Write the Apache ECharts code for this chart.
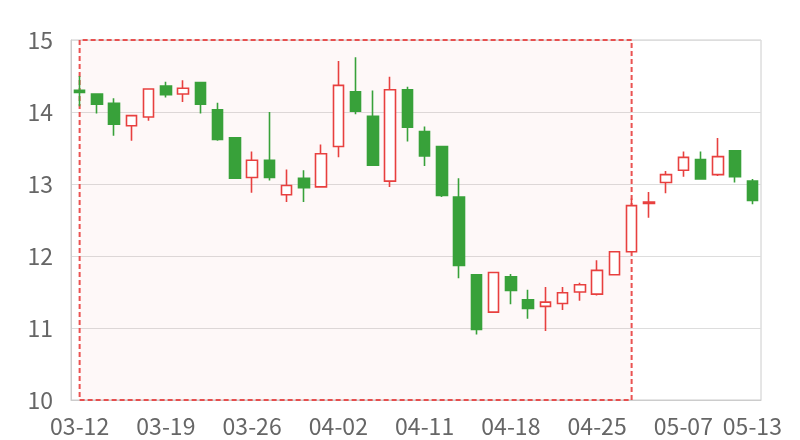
<!DOCTYPE html>
<html>
<head>
<meta charset="utf-8">
<script src="https://cdn.jsdelivr.net/npm/echarts@6/dist/echarts.min.js"></script>
<style>html,body{margin:0;padding:0;background:#fff}#c{width:800px;height:440px}</style>
</head>
<body>
<div id="c"></div>
<script>
var dates = ['03-12','03-13','03-14','03-15','03-18','03-19','03-20','03-21','03-22','03-25',
  '03-26','03-27','03-28','03-29','04-01','04-02','04-03','04-08','04-09','04-10',
  '04-11','04-12','04-15','04-16','04-17','04-18','04-19','04-22','04-23','04-24',
  '04-25','04-26','04-29','04-30','05-06','05-07','05-08','05-09','05-10','05-13'];
var opens  = [14.30,14.25,14.12,13.81,13.93,14.36,14.25,14.41,14.03,13.64,
  13.09,13.33,12.85,13.08,12.96,13.52,14.28,13.94,13.04,14.31,
  13.73,13.52,12.82,11.74,11.22,11.71,11.39,11.30,11.34,11.50,
  11.47,11.74,12.06,12.73,13.02,13.19,13.34,13.13,13.46,13.04];
var closes = [14.27,14.11,13.83,13.95,14.32,14.24,14.33,14.11,13.62,13.08,
  13.33,13.09,12.98,12.95,13.42,14.37,14.01,13.26,14.31,13.79,
  13.39,12.84,11.87,10.98,11.77,11.52,11.27,11.36,11.49,11.60,
  11.80,12.06,12.70,12.75,13.13,13.37,13.07,13.38,13.10,12.77];
var lows   = [14.08,13.98,13.67,13.60,13.88,14.20,14.14,13.98,13.60,13.07,
  12.88,13.05,12.75,12.75,12.96,13.37,13.97,13.25,12.96,13.59,
  13.25,12.82,11.69,10.91,11.22,11.33,11.13,10.96,11.25,11.38,
  11.45,11.74,12.06,12.53,12.87,13.10,13.06,13.11,13.02,12.72];
var highs  = [14.50,14.26,14.19,13.95,14.33,14.42,14.44,14.42,14.13,13.65,
  13.45,14.00,13.20,13.19,13.55,14.71,14.76,14.30,14.49,14.35,
  13.80,13.53,13.08,11.75,11.77,11.75,11.53,11.57,11.57,11.63,
  11.94,12.06,12.80,12.89,13.18,13.45,13.45,13.64,13.47,13.07];
var yTicks = [10, 11, 12, 13, 14, 15];
var areaStart = '03-12';
var areaEnd = '04-29';

var ohlc = dates.map(function (d, i) { return [opens[i], closes[i], lows[i], highs[i]]; });
var RED = '#e8403f', GREEN = '#38a13a';
var chart = echarts.init(document.getElementById('c'), null, {renderer: 'canvas'});
chart.setOption({
  animation: false,
  grid: {left: 71, right: 39, top: 40, bottom: 40, show: true, borderColor: '#cccccc', borderWidth: 1},
  xAxis: {
    type: 'category', data: dates, boundaryGap: true,
    axisLine: {show: true, lineStyle: {color: '#cccccc'}},
    axisTick: {show: false},
    axisLabel: {
      color: '#666', fontSize: 23, fontFamily: 'Noto Sans CJK SC', margin: 15,
      interval: function (idx) { return idx % 5 === 0 || idx === dates.length - 1; }
    },
    splitLine: {show: false}
  },
  yAxis: {
    type: 'value', min: yTicks[0], max: yTicks[yTicks.length - 1], interval: 1,
    axisLine: {show: true, lineStyle: {color: '#cccccc'}},
    axisTick: {show: false},
    axisLabel: {color: '#666', fontSize: 23, fontFamily: 'Noto Sans CJK SC', margin: 18},
    splitLine: {show: true, lineStyle: {color: '#dddddd'}}
  },
  series: [{
    type: 'candlestick',
    data: ohlc,
    barWidth: 11,
    itemStyle: {color: '#ffffff', color0: GREEN, borderColor: RED, borderColor0: GREEN, borderWidth: 1.6},
    markArea: {
      silent: true,
      itemStyle: {color: 'rgba(232,64,63,0.04)', borderColor: RED, borderWidth: 2, borderType: [5, 3], opacity: 0.9},
      data: [[{xAxis: areaStart}, {xAxis: areaEnd}]]
    }
  }]
});
</script>
</body>
</html>
